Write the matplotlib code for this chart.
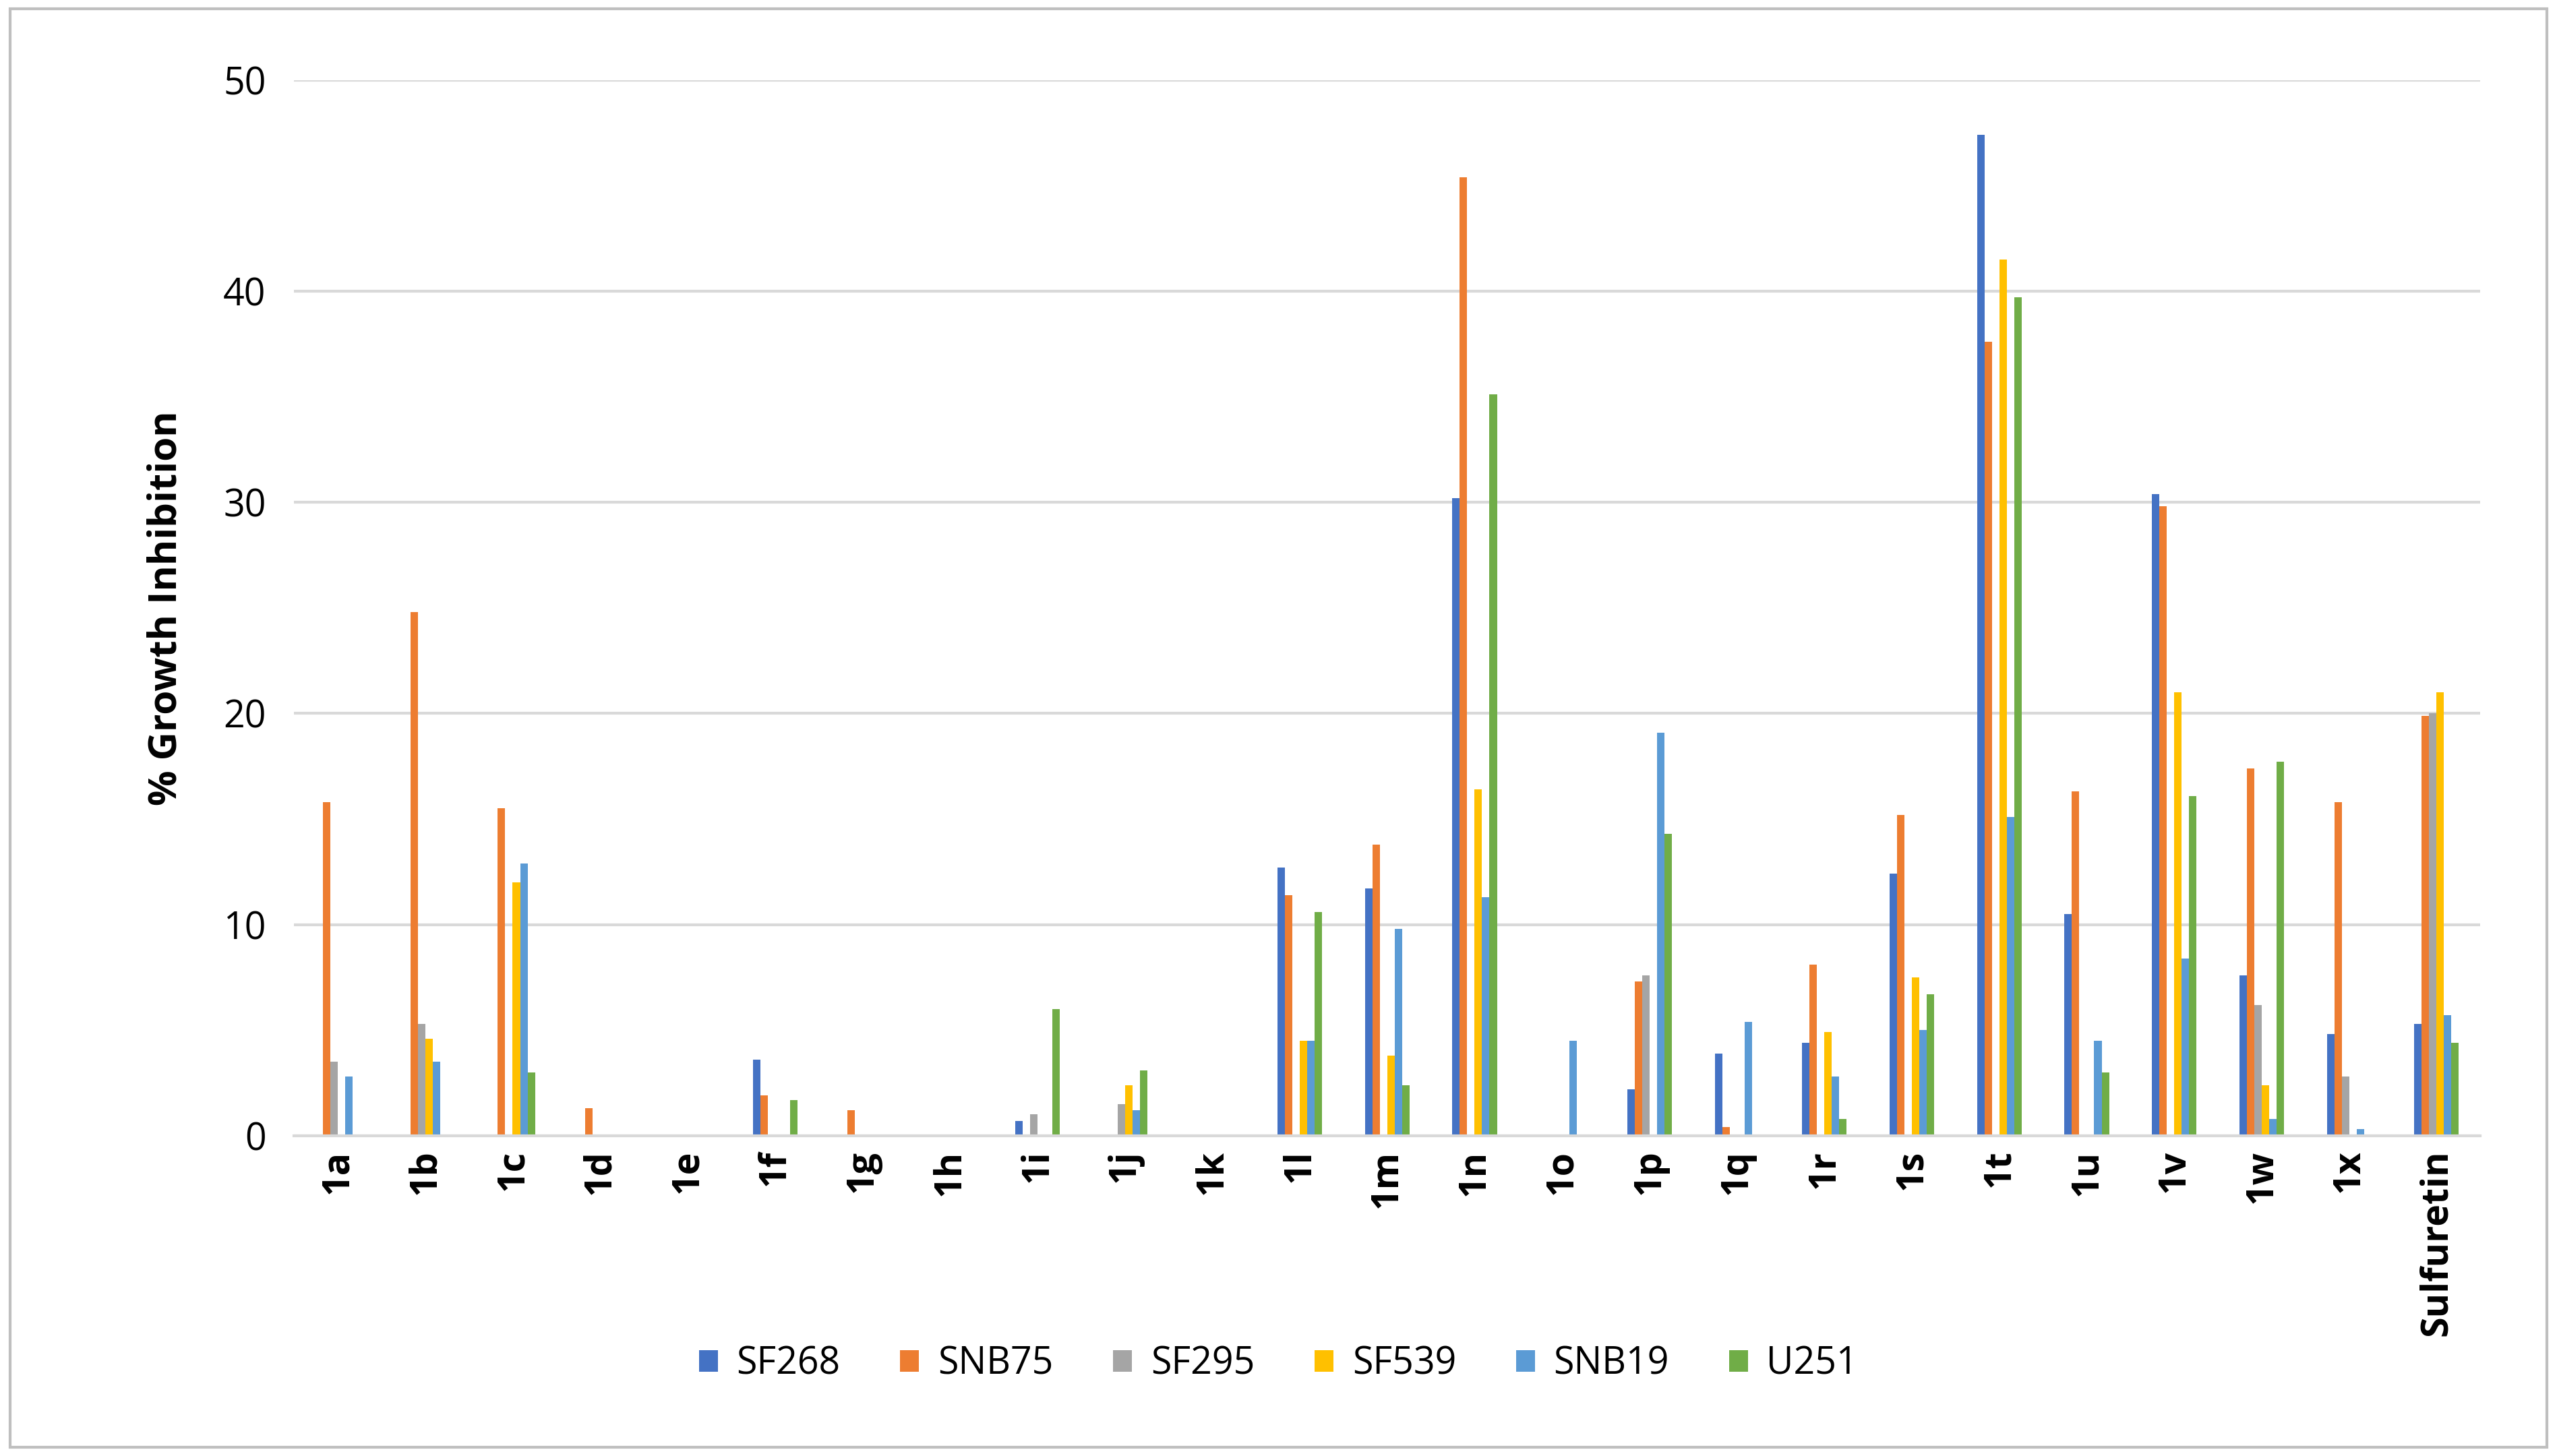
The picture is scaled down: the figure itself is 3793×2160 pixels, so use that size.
import matplotlib
matplotlib.use("Agg")
import matplotlib.pyplot as plt
import numpy as np

categories = ["1a","1b","1c","1d","1e","1f","1g","1h","1i","1j","1k","1l","1m","1n","1o","1p","1q","1r","1s","1t","1u","1v","1w","1x","Sulfuretin"]
series_names = ["SF268","SNB75","SF295","SF539","SNB19","U251"]
SF268 = [0,0,0,0,0,3.6,0,0,0.7,0,0,12.7,11.7,30.2,0,2.2,3.9,4.4,12.4,47.4,10.5,30.4,7.6,4.8,5.3]
SNB75 = [15.8,24.8,15.5,1.3,0,1.9,1.2,0,0,0,0,11.4,13.8,45.4,0,7.3,0.4,8.1,15.2,37.6,16.3,29.8,17.4,15.8,19.9]
SF295 = [3.5,5.3,0,0,0,0,0,0,1.0,1.5,0,0,0,0,0,7.6,0,0,0,0,0,0,6.2,2.8,20.0]
SF539 = [0,4.6,12.0,0,0,0,0,0,0,2.4,0,4.5,3.8,16.4,0,0,0,4.9,7.5,41.5,0,21.0,2.4,0,21.0]
SNB19 = [2.8,3.5,12.9,0,0,0,0,0,0,1.2,0,4.5,9.8,11.3,4.5,19.1,5.4,2.8,5.0,15.1,4.5,8.4,0.8,0.3,5.7]
U251 = [0,0,3.0,0,0,1.7,0,0,6.0,3.1,0,10.6,2.4,35.1,0,14.3,0,0.8,6.7,39.7,3.0,16.1,17.7,0,4.4]
data = [SF268, SNB75, SF295, SF539, SNB19, U251]
colors = ["#4472C4","#ED7D31","#A5A5A5","#FFC000","#5B9BD5","#70AD47"]

plt.rcParams['font.family'] = ['Open Sans', 'DejaVu Sans']
fig = plt.figure(figsize=(37.93,21.6), dpi=100)
ax = fig.add_axes([0.115, 0.22, 0.855, 0.725])
x = np.arange(len(categories))
w = 0.085
for i,(vals,c,n) in enumerate(zip(data,colors,series_names)):
    ax.bar(x + (i-2.5)*w, vals, w, color=c, label=n)
ax.set_ylim(0,50)
ax.set_xlim(-0.5, len(categories)-0.5)
ax.set_yticks(range(0,51,10))
ax.tick_params(axis='y', labelsize=40, length=0, pad=30)
ax.set_xticks(x)
ax.set_xticklabels(categories, rotation=90, fontsize=40, fontweight='bold')
ax.tick_params(axis='x', length=0, pad=15)
ax.yaxis.grid(True, color="#D9D9D9", linewidth=3)
ax.set_axisbelow(True)
for s in ['top','right','left']:
    ax.spines[s].set_visible(False)
ax.spines['bottom'].set_color("#D9D9D9")
ax.spines['bottom'].set_linewidth(3)
ax.set_ylabel("% Growth Inhibition", fontsize=42, fontweight='bold', labelpad=40)
fig.legend(loc='center', bbox_to_anchor=(0.5, 0.063), ncol=6, fontsize=40, frameon=False,
           handlelength=0.5, handleheight=0.5, columnspacing=1.6, handletextpad=0.5)
fig.patches.append(plt.Rectangle((0.004,0.006),0.992,0.988, transform=fig.transFigure, fill=False, edgecolor="#BFBFBF", linewidth=3))
fig.savefig("out.png", dpi=100)
